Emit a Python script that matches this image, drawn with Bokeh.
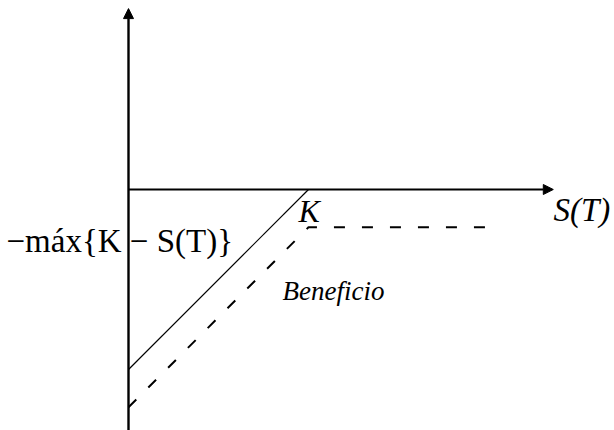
from bokeh.plotting import figure
from bokeh.models import Range1d, Arrow, NormalHead
from bokeh.core.properties import value
from bokeh.embed import file_html
from bokeh.resources import INLINE

# ---- data (in chart units, strike K = 10) ----
K = 10.0
premium = 2.1
# solid line: -max{K - S(T), 0} for S(T) from 0 to K
solid_s = [0.0, 10.0]
solid_v = [-10.0, 0.0]
# dashed line: profit (payoff minus premium)
dash_s = [0.0, 10.0, 20.2]
dash_v = [-12.1, -2.1, -2.1]
# axes extents
x_axis_start, x_axis_end = 0.0, 23.6
y_axis_bottom, y_axis_top = -13.5, 10.05

# labels
label_k = "K"
label_st = "S(T)"
label_payoff = "−máx{K − S(T)}"
label_benefit = "Beneficio"

# ---- layout: 18 px per unit, origin at screen (128, 189) ----
PX = 18.0
W, H = 614, 430
x0_scr, y0_scr = 128, 189
xr = Range1d(-x0_scr / PX, (W - x0_scr) / PX)
yr = Range1d(-(H - y0_scr) / PX, y0_scr / PX)

p = figure(width=W, height=H, x_range=xr, y_range=yr,
           x_axis_type=None, y_axis_type=None,
           output_backend="svg", toolbar_location=None,
           min_border=0, outline_line_color=None,
           background_fill_color="white", border_fill_color="white")
p.grid.visible = False

def sx(px):
    return (px - x0_scr) / PX

def sy(py):
    return (y0_scr - py) / PX

# axes arrows
p.add_layout(Arrow(end=NormalHead(size=10, fill_color="black", line_color="black"),
                   x_start=x_axis_start, y_start=0, x_end=x_axis_end, y_end=0,
                   line_color="black", line_width=2.2))
p.add_layout(Arrow(end=NormalHead(size=10, fill_color="black", line_color="black"),
                   x_start=0, y_start=y_axis_bottom, x_end=0, y_end=y_axis_top,
                   line_color="black", line_width=2.4))

# payoff lines
p.line(solid_s, solid_v, line_color="black", line_width=1.2)
p.line(dash_s, dash_v, line_color="black", line_width=2, line_dash="11 17")

serif = value("Liberation Serif")
TOFF = 10  # rendered baseline sits ~10px below requested
p.text(x=[sx(298)], y=[sy(220 - TOFF)], text=[label_k], text_font=serif,
       text_font_size="32px", text_font_style="italic",
       text_baseline="alphabetic", text_align="left", text_color="black")
p.text(x=[sx(553)], y=[sy(219 - TOFF)], text=[label_st], text_font=serif,
       text_font_size="33px", text_font_style="italic",
       text_baseline="alphabetic", text_align="left", text_color="black")
p.text(x=[sx(6)], y=[sy(250 - TOFF)], text=[label_payoff], text_font=serif,
       text_font_size="33px", text_baseline="alphabetic",
       text_align="left", text_color="black")
p.text(x=[sx(282)], y=[sy(300 - TOFF)], text=[label_benefit], text_font=serif,
       text_font_size="27px", text_font_style="italic",
       text_baseline="alphabetic", text_align="left", text_color="black")

open("out.html", "w").write(file_html(p, INLINE))
